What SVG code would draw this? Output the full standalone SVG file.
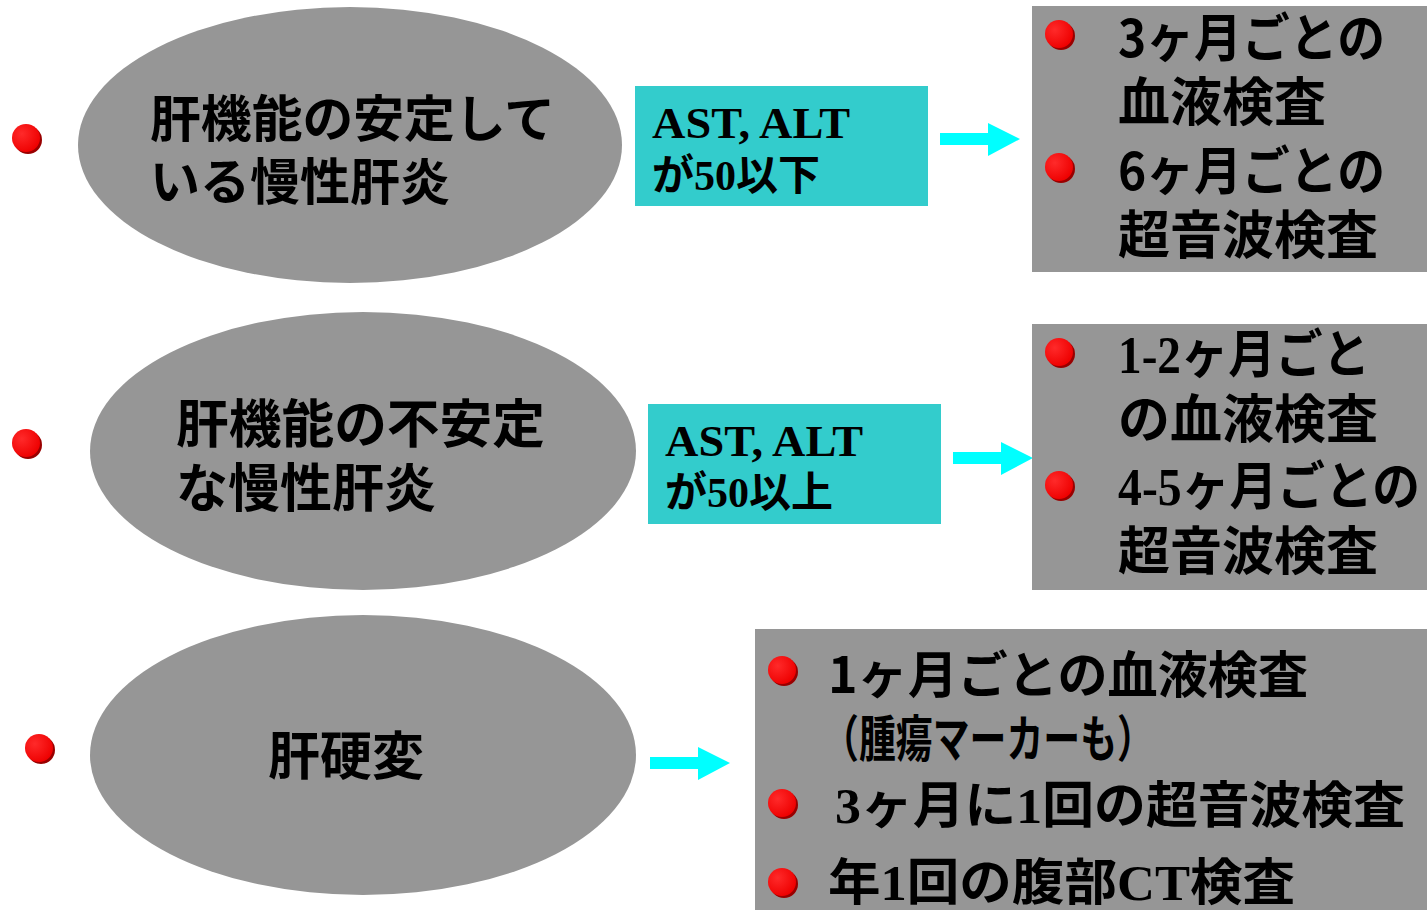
<svg xmlns="http://www.w3.org/2000/svg" width="1427" height="910" viewBox="0 0 1427 910">
<style>
.ell{fill:#969696}
.gbox{fill:#969696}
.cbox{fill:#33cccc}
.jt{font-family:"Noto Sans CJK JP",sans-serif;font-weight:bold;fill:#000}
.st{font-family:"Liberation Serif","Noto Sans CJK JP",serif;font-weight:bold;fill:#000}
.arr{fill:#00ffff}
</style>
<defs>
<radialGradient id="bg" cx="0.35" cy="0.35" r="0.7">
<stop offset="0" stop-color="#ff2a2a"/>
<stop offset="1" stop-color="#ee0000"/>
</radialGradient>
<g id="bullet">
<circle cx="2" cy="2" r="14" fill="#990000"/>
<circle cx="0" cy="0" r="14" fill="url(#bg)"/>
</g>
</defs>
<rect width="1427" height="910" fill="#ffffff"/>

<g id="bullets-left">
<use href="#bullet" x="26" y="138"/>
<use href="#bullet" x="26" y="443"/>
<use href="#bullet" x="39" y="748"/>
</g>

<g id="node-ellipse1">
<ellipse class="ell" cx="350" cy="145" rx="272" ry="138"/>
<text class="jt" x="150" y="137" font-size="50" textLength="405" lengthAdjust="spacingAndGlyphs">肝機能の安定して</text>
<text class="jt" x="150" y="200" font-size="50">いる慢性肝炎</text>
</g>
<g id="node-ellipse2">
<ellipse class="ell" cx="363" cy="451" rx="273" ry="139"/>
<text class="jt" x="176" y="443" font-size="52" textLength="369" lengthAdjust="spacingAndGlyphs">肝機能の不安定</text>
<text class="jt" x="176" y="507" font-size="52">な慢性肝炎</text>
</g>
<g id="node-ellipse3">
<ellipse class="ell" cx="363" cy="755" rx="273" ry="140"/>
<text class="jt" x="268" y="775" font-size="52">肝硬変</text>
</g>

<g id="node-cond1">
<rect class="cbox" x="635" y="86" width="293" height="120"/>
<text class="st" x="652" y="138" font-size="44" textLength="198" lengthAdjust="spacingAndGlyphs">AST, ALT</text>
<text class="st" x="652" y="190" font-size="42">が50以下</text>
</g>
<g id="node-cond2">
<rect class="cbox" x="648" y="404" width="293" height="120"/>
<text class="st" x="665" y="456" font-size="44" textLength="198" lengthAdjust="spacingAndGlyphs">AST, ALT</text>
<text class="st" x="665" y="507" font-size="42">が50以上</text>
</g>

<g id="connectors">
<polygon class="arr" points="940,133 988,133 988,123 1020,139 988,156 988,145 940,145"/>
<polygon class="arr" points="953,452 1001,452 1001,442 1033,458 1001,475 1001,464 953,464"/>
<polygon class="arr" points="650,757 698,757 698,747 730,763 698,780 698,769 650,769"/>
</g>

<g id="node-result1">
<rect class="gbox" x="1032" y="6" width="395" height="266"/>
<use href="#bullet" x="1059" y="34"/>
<use href="#bullet" x="1059" y="167"/>
<text class="jt" x="1118" y="57" font-size="52" textLength="267" lengthAdjust="spacingAndGlyphs">3ヶ月ごとの</text>
<text class="jt" x="1118" y="121" font-size="52">血液検査</text>
<text class="jt" x="1118" y="190" font-size="52" textLength="267" lengthAdjust="spacingAndGlyphs">6ヶ月ごとの</text>
<text class="jt" x="1118" y="254" font-size="52">超音波検査</text>
</g>

<g id="node-result2">
<rect class="gbox" x="1032" y="324" width="395" height="266"/>
<use href="#bullet" x="1059" y="352"/>
<use href="#bullet" x="1059" y="485"/>
<text class="st" x="1118" y="373" font-size="52" textLength="252" lengthAdjust="spacingAndGlyphs">1-2ヶ月ごと</text>
<text class="jt" x="1118" y="438" font-size="52">の血液検査</text>
<text class="st" x="1118" y="505" font-size="52" textLength="302" lengthAdjust="spacingAndGlyphs">4-5ヶ月ごとの</text>
<text class="jt" x="1118" y="570" font-size="52">超音波検査</text>
</g>

<g id="node-result3">
<rect class="gbox" x="755" y="629" width="672" height="281"/>
<use href="#bullet" x="782" y="670"/>
<use href="#bullet" x="782" y="803"/>
<use href="#bullet" x="782" y="882"/>
<text class="jt" x="828" y="693" font-size="50" textLength="480" lengthAdjust="spacingAndGlyphs">1ヶ月ごとの血液検査</text>
<text class="jt" x="822" y="757" font-size="50" textLength="332" lengthAdjust="spacingAndGlyphs">（腫瘍マーカーも）</text>
<text class="st" x="835" y="823" font-size="50" textLength="570" lengthAdjust="spacingAndGlyphs">3ヶ月に1回の超音波検査</text>
<text class="st" x="828" y="900" font-size="50" textLength="467" lengthAdjust="spacingAndGlyphs">年1回の腹部CT検査</text>
</g>
</svg>
